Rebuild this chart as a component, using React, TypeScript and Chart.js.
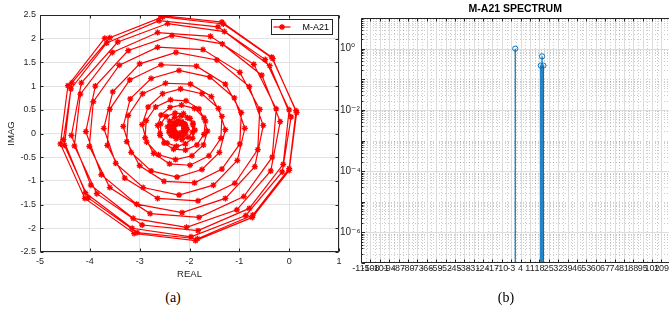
import React, { useEffect, useRef } from "react";
import { Chart, registerables } from "chart.js";

Chart.register(...registerables);

// ---------------- data: (a) complex trajectory ----------------
const realPart: number[] = [
  -2.59, -1.35, -0.35, 0.14, 0.0, -0.73, -1.84, -3.05, -4.03, -4.51, -4.38, -3.66,
  -2.61, -1.43, -0.48, 0.0, -0.12, -0.8, -1.83, -2.95, -3.86, -4.31, -4.19, -3.55,
  -2.64, -1.58, -0.71, -0.26, -0.34, -0.91, -1.81, -2.79, -3.6, -4.01, -3.93, -3.41,
  -2.64, -1.73, -0.99, -0.59, -0.63, -1.09, -1.83, -2.64, -3.3, -3.65, -3.6, -3.2,
  -2.57, -1.86, -1.28, -0.96, -0.99, -1.35, -1.9, -2.51, -3.0, -3.26, -3.23, -2.94,
  -2.48, -1.98, -1.56, -1.35, -1.37, -1.61, -1.99, -2.4, -2.72, -2.89, -2.87, -2.68,
  -2.38, -2.07, -1.81, -1.68, -1.71, -1.85, -2.08, -2.32, -2.51, -2.59, -2.58, -2.47,
  -2.29, -2.12, -1.99, -1.93, -1.94, -2.03, -2.15, -2.27, -2.37, -2.4, -2.39, -2.33,
  -2.23, -2.15, -2.09, -2.07, -2.08, -2.13, -2.19, -2.26, -2.31, -2.32, -2.31, -2.28,
  -2.21, -2.16, -2.12, -2.11, -2.12, -2.16, -2.21, -2.27, -2.31, -2.33, -2.31, -2.27,
  -2.19, -2.13, -2.08, -2.05, -2.08, -2.14, -2.24, -2.33, -2.41, -2.44, -2.4, -2.3,
  -2.17, -2.04, -1.93, -1.89, -1.94, -2.08, -2.26, -2.45, -2.59, -2.64, -2.57, -2.39,
  -2.16, -1.9, -1.71, -1.64, -1.72, -1.95, -2.28, -2.62, -2.86, -2.95, -2.83, -2.54,
  -2.18, -1.75, -1.42, -1.28, -1.4, -1.75, -2.25, -2.77, -3.17, -3.33, -3.19, -2.77,
  -2.21, -1.59, -1.1, -0.89, -1.04, -1.52, -2.21, -2.93, -3.48, -3.72, -3.54, -3.0,
  -2.27, -1.45, -0.8, -0.52, -0.69, -1.28, -2.15, -3.06, -3.77, -4.08, -3.89, -3.23,
  -2.35, -1.34, -0.55, -0.18, -0.37, -1.05, -2.06, -3.13, -3.98, -4.37, -4.17, -3.44,
  -2.44, -1.3, -0.39, 0.04, -0.14, -0.87, -1.97, -3.15, -4.09, -4.53, -4.36, -3.6,
  -2.54, -1.32, -0.33, 0.15, 0.0, -0.74, -1.88, -3.11, -4.1, -4.59, -4.44, -3.7,
];
const imagPart: number[] = [
  2.49, 2.35, 1.61, 0.48, -0.74, -1.72, -2.22, -2.09, -1.36, -0.25, 0.94, 1.91,
  2.38, 2.25, 1.56, 0.5, -0.65, -1.58, -2.05, -1.93, -1.27, -0.26, 0.83, 1.71,
  2.13, 2.05, 1.46, 0.52, -0.5, -1.33, -1.77, -1.69, -1.14, -0.27, 0.67, 1.44,
  1.82, 1.77, 1.29, 0.51, -0.34, -1.05, -1.42, -1.37, -0.94, -0.25, 0.51, 1.13,
  1.45, 1.42, 1.04, 0.44, -0.22, -0.75, -1.04, -1.01, -0.68, -0.17, 0.38, 0.84,
  1.06, 1.04, 0.78, 0.36, -0.1, -0.47, -0.67, -0.64, -0.42, -0.09, 0.27, 0.56,
  0.71, 0.69, 0.52, 0.26, -0.02, -0.24, -0.35, -0.33, -0.2, 0.0, 0.2, 0.36,
  0.43, 0.42, 0.32, 0.18, 0.03, -0.08, -0.13, -0.11, -0.04, 0.06, 0.16, 0.23,
  0.27, 0.25, 0.2, 0.13, 0.06, 0.0, -0.02, -0.01, 0.04, 0.09, 0.15, 0.19,
  0.21, 0.2, 0.16, 0.11, 0.06, 0.02, 0.0, 0.02, 0.06, 0.11, 0.17, 0.21,
  0.23, 0.21, 0.16, 0.09, 0.01, -0.06, -0.08, -0.05, 0.03, 0.14, 0.26, 0.34,
  0.37, 0.33, 0.22, 0.07, -0.1, -0.22, -0.27, -0.2, -0.04, 0.17, 0.39, 0.55,
  0.6, 0.53, 0.33, 0.05, -0.24, -0.47, -0.55, -0.45, -0.18, 0.19, 0.56, 0.84,
  0.94, 0.84, 0.53, 0.08, -0.4, -0.76, -0.92, -0.79, -0.4, 0.15, 0.73, 1.16,
  1.33, 1.19, 0.75, 0.11, -0.57, -1.09, -1.3, -1.14, -0.63, 0.11, 0.88, 1.47,
  1.71, 1.55, 0.99, 0.17, -0.7, -1.37, -1.67, -1.49, -0.87, 0.04, 1.0, 1.75,
  2.07, 1.89, 1.23, 0.25, -0.79, -1.61, -1.98, -1.79, -1.09, -0.04, 1.07, 1.93,
  2.32, 2.15, 1.43, 0.35, -0.81, -1.73, -2.18, -2.0, -1.25, -0.13, 1.07, 2.02,
  2.46, 2.31, 1.58, 0.44, -0.78, -1.77, -2.26, -2.11, -1.37, -0.22, 1.01, 2.01,
];
const seriesName = "M-A21";
const realTicks = [-5, -4, -3, -2, -1, 0, 1];
const imagTicks = [-2.5, -2, -1.5, -1, -0.5, 0, 0.5, 1, 1.5, 2, 2.5];
const realLabel = "REAL";
const imagLabel = "IMAG";

// ---------------- data: (b) spectrum ----------------
const specIndex = [0, 19, 20, 21];
const specMagnitude = [1.0, 0.28, 0.56, 0.28];
const specTicks = [
  -115, -108, -101, -94, -87, -80, -73, -66, -59, -52, -45, -38, -31, -24, -17, -10, -3,
  4, 11, 18, 25, 32, 39, 46, 53, 60, 67, 74, 81, 88, 95, 102, 109,
];
const specDecades = [1e-7, 1e-6, 1e-5, 1e-4, 1e-3, 1e-2, 1e-1, 1, 10];
const specTitle = "M-A21 SPECTRUM";

const captionA = "(a)";
const captionB = "(b)";

// ---------------- styling ----------------
const SANS = "'Liberation Sans', Arial, Helvetica, 'DejaVu Sans', sans-serif";
const AXIS_COLOR = "#262626";
const RED = "#ff0000";
const BLUE = "#0072bd";

const SUP: Record<string, string> = {
  "0": "\u2070", "1": "\u00b9", "2": "\u00b2", "3": "\u00b3", "4": "\u2074",
  "5": "\u2075", "6": "\u2076", "7": "\u2077", "8": "\u2078", "9": "\u2079", "-": "\u207b",
};
function powLabel(v: number): string {
  const e = Math.round(Math.log10(v));
  if (e % 2 !== 0 || e > 0) return "";
  return "10" + String(e).split("").map((c) => SUP[c]).join("");
}

function drawStar(ctx: CanvasRenderingContext2D, x: number, y: number, r: number) {
  const d = r * Math.SQRT1_2;
  ctx.beginPath();
  ctx.moveTo(x - r, y); ctx.lineTo(x + r, y);
  ctx.moveTo(x, y - r); ctx.lineTo(x, y + r);
  ctx.moveTo(x - d, y - d); ctx.lineTo(x + d, y + d);
  ctx.moveTo(x - d, y + d); ctx.lineTo(x + d, y - d);
  ctx.stroke();
}

const spiralDecor = {
  id: "spiralDecor",
  afterDatasetsDraw(chart: any) {
    const { ctx, chartArea } = chart;
    const L = Math.round(chartArea.left) + 0.5;
    const R = Math.round(chartArea.right) - 0.5;
    const T = Math.round(chartArea.top) + 0.5;
    const B = Math.round(chartArea.bottom) - 0.5;
    ctx.save();
    ctx.strokeStyle = AXIS_COLOR;
    ctx.lineWidth = 1;
    ctx.beginPath();
    const xs = chart.scales.x;
    const ys = chart.scales.y;
    xs.ticks.forEach((t: any) => {
      const p = Math.round(xs.getPixelForValue(t.value)) + 0.5;
      ctx.moveTo(p, B); ctx.lineTo(p, B - 3);
      ctx.moveTo(p, T); ctx.lineTo(p, T + 3);
    });
    ys.ticks.forEach((t: any) => {
      const p = Math.round(ys.getPixelForValue(t.value)) + 0.5;
      ctx.moveTo(L, p); ctx.lineTo(L + 3, p);
      ctx.moveTo(R, p); ctx.lineTo(R - 3, p);
    });
    ctx.stroke();
    ctx.strokeRect(L, T, R - L, B - T);

    // legend box (top-right, inside axes)
    const bx = Math.round(chartArea.right) - 67.5;
    const by = Math.round(chartArea.top) + 4.5;
    const bw = 61;
    const bh = 15;
    ctx.fillStyle = "#ffffff";
    ctx.fillRect(bx, by, bw, bh);
    ctx.strokeStyle = AXIS_COLOR;
    ctx.strokeRect(bx, by, bw, bh);
    const ly = by + bh / 2;
    ctx.strokeStyle = RED;
    ctx.lineWidth = 1.2;
    ctx.beginPath();
    ctx.moveTo(bx + 2, ly);
    ctx.lineTo(bx + 19, ly);
    ctx.stroke();
    ctx.lineWidth = 1.3;
    drawStar(ctx, bx + 10.5, ly, 3);
    ctx.fillStyle = "#000000";
    ctx.font = `9px ${SANS}`;
    ctx.textAlign = "left";
    ctx.textBaseline = "middle";
    ctx.fillText(seriesName, bx + 31, ly + 0.5);
    ctx.restore();
  },
};

const spectrumDecor = {
  id: "spectrumDecor",
  beforeDatasetsDraw(chart: any) {
    const { ctx, chartArea } = chart;
    const { left, right, top, bottom } = chartArea;
    const xs = chart.scales.x;
    const ys = chart.scales.y;
    ctx.save();
    ctx.lineWidth = 1;
    // minor grid (dotted)
    ctx.strokeStyle = "rgba(0,0,0,0.2)";
    ctx.setLineDash([1, 2]);
    ctx.beginPath();
    for (let i = 0; i < specTicks.length; i++) {
      const next = i < specTicks.length - 1 ? specTicks[i + 1] : xs.max + 7;
      const mid = (specTicks[i] + next) / 2;
      if (mid >= xs.max) continue;
      const p = Math.round(xs.getPixelForValue(mid)) + 0.5;
      ctx.moveTo(p, top); ctx.lineTo(p, bottom);
    }
    for (let e = -7; e <= 0; e++) {
      for (let m = 1; m <= 9; m++) {
        const v = m * Math.pow(10, e);
        if (m === 1 && (e % 2 === 0 || e === -7)) continue;
        const p = Math.round(ys.getPixelForValue(v)) + 0.5;
        ctx.moveTo(left, p); ctx.lineTo(right, p);
      }
    }
    ctx.stroke();
    // major grid (solid)
    ctx.setLineDash([]);
    ctx.strokeStyle = "#dcdcdc";
    ctx.beginPath();
    specTicks.forEach((v) => {
      const p = Math.round(xs.getPixelForValue(v)) + 0.5;
      ctx.moveTo(p, top); ctx.lineTo(p, bottom);
    });
    specDecades.forEach((v) => {
      if (powLabel(v) === "") return;
      const p = Math.round(ys.getPixelForValue(v)) + 0.5;
      ctx.moveTo(left, p); ctx.lineTo(right, p);
    });
    ctx.stroke();
    // stems
    ctx.strokeStyle = BLUE;
    ctx.lineWidth = 1.2;
    ctx.beginPath();
    const meta = chart.getDatasetMeta(0);
    meta.data.forEach((pt: any) => {
      ctx.moveTo(pt.x, pt.y);
      ctx.lineTo(pt.x, bottom);
    });
    ctx.stroke();
    ctx.restore();
  },
  afterDatasetsDraw(chart: any) {
    const { ctx, chartArea } = chart;
    const xs = chart.scales.x;
    const ys = chart.scales.y;
    const L = Math.round(chartArea.left) + 0.5;
    const T = Math.round(chartArea.top) + 0.5;
    const B = Math.round(chartArea.bottom) - 0.5;
    const R = chartArea.right;
    ctx.save();
    ctx.strokeStyle = AXIS_COLOR;
    ctx.lineWidth = 1;
    ctx.beginPath();
    ctx.moveTo(R + 2, T); ctx.lineTo(L, T); ctx.lineTo(L, B); ctx.lineTo(R + 2, B);
    specTicks.forEach((v) => {
      const p = Math.round(xs.getPixelForValue(v)) + 0.5;
      ctx.moveTo(p, B); ctx.lineTo(p, B - 3);
      ctx.moveTo(p, T); ctx.lineTo(p, T + 3);
    });
    for (let e = -7; e <= 0; e++) {
      for (let m = 1; m <= 9; m++) {
        const v = m * Math.pow(10, e);
        const p = Math.round(ys.getPixelForValue(v)) + 0.5;
        const len = m === 1 ? 3.5 : 2;
        ctx.moveTo(L, p); ctx.lineTo(L + len, p);
      }
    }
    ctx.stroke();
    ctx.fillStyle = "#000000";
    ctx.font = `bold 10.5px ${SANS}`;
    ctx.textAlign = "center";
    ctx.textBaseline = "middle";
    ctx.fillText(specTitle, (chartArea.left + chartArea.right) / 2, 9);
    ctx.restore();
  },
};

function SpiralChart() {
  const ref = useRef<HTMLCanvasElement>(null);
  useEffect(() => {
    const canvas = ref.current as HTMLCanvasElement;
    const points = realPart.map((x, i) => ({ x, y: imagPart[i] }));
    const tickFont = { family: SANS, size: 9 };
    const chart = new Chart(canvas, {
      type: "scatter",
      data: {
        datasets: [
          {
            label: seriesName,
            data: points,
            showLine: true,
            borderColor: RED,
            backgroundColor: RED,
            borderWidth: 1.2,
            pointStyle: "star",
            pointRadius: 3,
            pointBorderWidth: 1.3,
            pointBorderColor: RED,
            tension: 0,
          },
        ],
      },
      options: {
        animation: false,
        responsive: false,
        maintainAspectRatio: false,
        devicePixelRatio: 1,
        layout: { padding: { top: 15, right: 6, left: 0, bottom: 0 } },
        plugins: { legend: { display: false }, tooltip: { enabled: false } },
        scales: {
          x: {
            type: "linear",
            min: -5,
            max: 1,
            afterBuildTicks: (s: any) => {
              s.ticks = realTicks.map((v) => ({ value: v }));
            },
            afterFit: (s: any) => {
              s.height = 33;
              s.paddingLeft = 0;
              s.paddingRight = 0;
            },
            ticks: { font: tickFont, color: AXIS_COLOR, padding: 4, maxRotation: 0, autoSkip: false, callback: (v: any) => String(v) },
            grid: { color: "#e3e3e3", drawTicks: false },
            border: { display: false },
            title: { display: true, text: realLabel, font: { family: SANS, size: 9.5 }, color: AXIS_COLOR, padding: { top: 0, bottom: 5 } },
          },
          y: {
            type: "linear",
            min: -2.5,
            max: 2.5,
            afterBuildTicks: (s: any) => {
              s.ticks = imagTicks.map((v) => ({ value: v }));
            },
            afterFit: (s: any) => {
              s.width = 40;
              s.paddingTop = 0;
              s.paddingBottom = 0;
            },
            ticks: { font: tickFont, color: AXIS_COLOR, padding: 4, autoSkip: false, callback: (v: any) => String(v) },
            grid: { color: "#e3e3e3", drawTicks: false },
            border: { display: false },
            title: { display: true, text: imagLabel, font: { family: SANS, size: 9.5 }, color: AXIS_COLOR, padding: { top: 6, bottom: 0 } },
          },
        },
      },
      plugins: [spiralDecor],
    } as any);
    return () => chart.destroy();
  }, []);
  return (
    <canvas
      ref={ref}
      width={345}
      height={285}
      style={{ position: "absolute", left: 0, top: 0, width: 345, height: 285 }}
    />
  );
}

function SpectrumChart() {
  const ref = useRef<HTMLCanvasElement>(null);
  useEffect(() => {
    const canvas = ref.current as HTMLCanvasElement;
    const points = specIndex.map((x, i) => ({ x, y: specMagnitude[i] }));
    const tickFont = { family: SANS, size: 9 };
    const chart = new Chart(canvas, {
      type: "scatter",
      data: {
        datasets: [
          {
            label: specTitle,
            data: points,
            showLine: false,
            pointStyle: "circle",
            pointRadius: 2.6,
            pointBorderWidth: 1,
            pointBorderColor: BLUE,
            pointBackgroundColor: "rgba(255,255,255,0)",
          },
        ],
      },
      options: {
        animation: false,
        responsive: false,
        maintainAspectRatio: false,
        devicePixelRatio: 1,
        layout: { padding: { top: 18, right: 10.5, left: 4, bottom: 0 } },
        plugins: { legend: { display: false }, tooltip: { enabled: false } },
        scales: {
          x: {
            type: "linear",
            min: -115,
            max: 115,
            afterBuildTicks: (s: any) => {
              s.ticks = specTicks.map((v) => ({ value: v }));
            },
            afterFit: (s: any) => {
              s.height = 22;
              s.paddingLeft = 0;
              s.paddingRight = 0;
            },
            ticks: { font: tickFont, color: AXIS_COLOR, padding: 0, maxRotation: 0, minRotation: 0, autoSkip: false, callback: (v: any) => String(v) },
            grid: { display: false, drawTicks: false },
            border: { display: false },
          },
          y: {
            type: "logarithmic",
            min: 1e-7,
            max: 10,
            afterBuildTicks: (s: any) => {
              s.ticks = specDecades.map((v) => ({ value: v }));
            },
            afterFit: (s: any) => {
              s.width = 21;
              s.paddingTop = 0;
              s.paddingBottom = 0;
            },
            ticks: { font: { family: SANS, size: 10 }, color: AXIS_COLOR, padding: 5, crossAlign: "far", autoSkip: false, callback: (v: any) => powLabel(Number(v)) },
            grid: { display: false, drawTicks: false },
            border: { display: false },
          },
        },
      },
      plugins: [spectrumDecor],
    } as any);
    return () => chart.destroy();
  }, []);
  return (
    <canvas
      ref={ref}
      width={344}
      height={285}
      style={{ position: "absolute", left: 336, top: 0, width: 344, height: 285 }}
    />
  );
}

export default function App() {
  const captionStyle: React.CSSProperties = {
    position: "absolute",
    top: 289,
    width: 40,
    textAlign: "center",
    fontFamily: "'Liberation Serif', 'Times New Roman', serif",
    fontSize: 14,
    lineHeight: "18px",
    color: "#000",
  };
  return (
    <div
      style={{
        position: "fixed",
        left: 0,
        top: 0,
        width: 669,
        height: 311,
        overflow: "hidden",
        background: "#ffffff",
      }}
    >
      <SpiralChart />
      <SpectrumChart />
      <div style={{ ...captionStyle, left: 153 }}>{captionA}</div>
      <div style={{ ...captionStyle, left: 486 }}>{captionB}</div>
    </div>
  );
}
